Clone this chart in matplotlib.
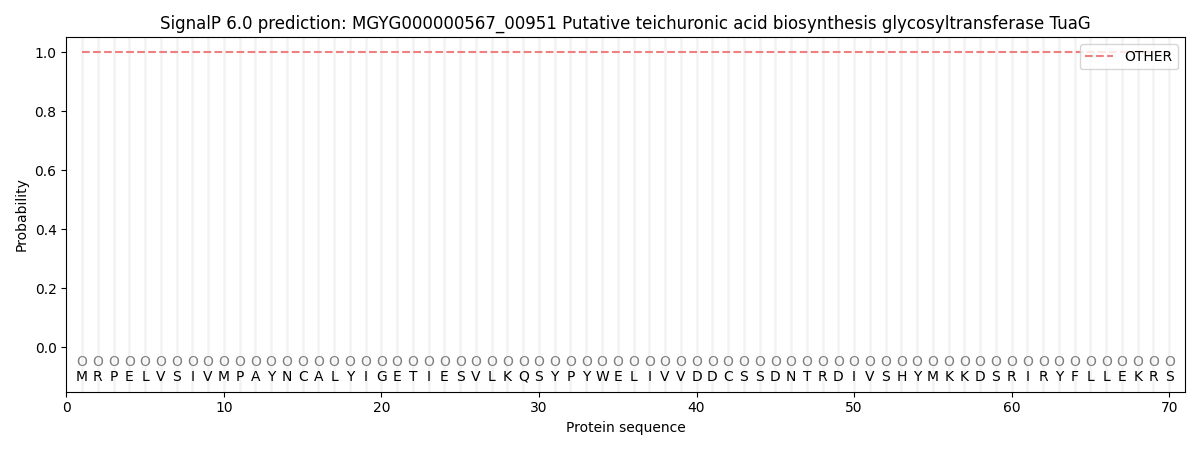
import numpy as np
import matplotlib
matplotlib.use("Agg")
from matplotlib import pyplot as plt

#%% Datos
seq = "MRPELVSIVMPAYNCALYIGETIESVLKQSYPYWELIVVDDCSSDNTRDIVSHYMKKDSRIRYFLLEKRS"
labels = ["O"] * len(seq)
pos = np.arange(1, len(seq) + 1)
p_other = [1.0] * len(seq)

#%% Figura
fig, ax = plt.subplots(figsize=(12, 4.5), dpi=100)

for x in pos:
    ax.axvline(x, color="#f2f2f2", linewidth=1.8, zorder=0)

ax.plot(pos, p_other, linestyle="--", color="#f08080", label="OTHER")

for x, aa, lab in zip(pos, seq, labels):
    ax.text(x, -0.05, lab, ha="center", va="center", color="gray", fontsize=10)
    ax.text(x, -0.1, aa, ha="center", va="center", color="black", fontsize=10)

ax.set_xlim(0, 71)
ax.set_ylim(-0.15, 1.05)
ax.set_xlabel("Protein sequence")
ax.set_ylabel("Probability")
ax.set_title("SignalP 6.0 prediction: MGYG000000567_00951 Putative teichuronic acid biosynthesis glycosyltransferase TuaG")
ax.legend(loc="upper right")

plt.tight_layout()
plt.savefig("out.png")
